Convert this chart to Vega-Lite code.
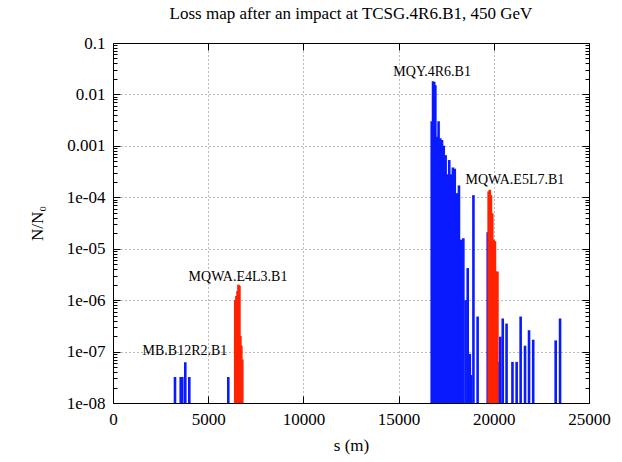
{
  "$schema": "https://vega.github.io/schema/vega-lite/v6.json",
  "width": 476,
  "height": 360,
  "autosize": {"type": "none"},
  "padding": {"left": 113, "top": 43, "right": 33, "bottom": 59},
  "background": "white",
  "title": {"text": "Loss map after an impact at TCSG.4R6.B1, 450 GeV", "font": "Liberation Serif", "fontSize": 17, "fontWeight": "normal", "color": "black", "offset": 11},
  "config": {
    "view": {"stroke": "black", "strokeWidth": 1},
    "axis": {"labelFont": "Liberation Serif", "labelFontSize": 17, "labelColor": "black", "labelFlush": false, "titleFont": "Liberation Serif", "titleFontSize": 17, "titleFontWeight": "normal", "titleColor": "black", "domainColor": "black", "domainWidth": 1, "tickColor": "black", "tickWidth": 1, "gridColor": "#777777", "gridDash": [1, 3], "gridOpacity": 1, "gridWidth": 1}
  },
  "datasets": {
    "losses": [
      {"s": 3256, "v": 3.2e-8, "k": "b"},
      {"s": 3556, "v": 3.2e-8, "k": "b"},
      {"s": 3640, "v": 3.2e-8, "k": "b"},
      {"s": 3797, "v": 6.2e-8, "k": "b"},
      {"s": 4008, "v": 3.2e-8, "k": "b"},
      {"s": 6055, "v": 3.2e-8, "k": "b"},
      {"s": 16740, "v": 3.0e-3, "k": "b"},
      {"s": 16810, "v": 1.8e-2, "k": "b"},
      {"s": 16870, "v": 1.75e-2, "k": "b"},
      {"s": 16930, "v": 1.5e-2, "k": "b"},
      {"s": 17010, "v": 1.5e-3, "k": "b"},
      {"s": 17100, "v": 3.0e-3, "k": "b"},
      {"s": 17190, "v": 1.4e-3, "k": "b"},
      {"s": 17280, "v": 1.3e-3, "k": "b"},
      {"s": 17370, "v": 1.0e-3, "k": "b"},
      {"s": 17470, "v": 6.6e-4, "k": "b"},
      {"s": 17560, "v": 2.8e-4, "k": "b"},
      {"s": 17660, "v": 5.3e-4, "k": "b"},
      {"s": 17750, "v": 2.8e-4, "k": "b"},
      {"s": 17850, "v": 3.8e-4, "k": "b"},
      {"s": 17950, "v": 3.6e-4, "k": "b"},
      {"s": 18060, "v": 1.2e-4, "k": "b"},
      {"s": 18170, "v": 1.7e-4, "k": "b"},
      {"s": 18290, "v": 1.5e-5, "k": "b"},
      {"s": 18400, "v": 1.6e-5, "k": "b"},
      {"s": 18520, "v": 1.0e-6, "k": "b"},
      {"s": 18630, "v": 4.2e-6, "k": "b"},
      {"s": 18740, "v": 9e-8, "k": "b"},
      {"s": 18810, "v": 3.5e-8, "k": "b"},
      {"s": 18930, "v": 1.1e-4, "k": "b"},
      {"s": 19150, "v": 4.8e-7, "k": "b"},
      {"s": 19680, "v": 2.1e-5, "k": "b"},
      {"s": 20240, "v": 6.3e-8, "k": "b"},
      {"s": 20340, "v": 1.95e-7, "k": "b"},
      {"s": 20470, "v": 4.4e-7, "k": "b"},
      {"s": 20670, "v": 3.5e-7, "k": "b"},
      {"s": 20980, "v": 6.3e-8, "k": "b"},
      {"s": 21200, "v": 6.3e-8, "k": "b"},
      {"s": 21410, "v": 4.8e-7, "k": "b"},
      {"s": 21640, "v": 1.3e-7, "k": "b"},
      {"s": 21850, "v": 2.6e-7, "k": "b"},
      {"s": 22070, "v": 1.7e-7, "k": "b"},
      {"s": 23250, "v": 1.65e-7, "k": "b"},
      {"s": 23480, "v": 4.4e-7, "k": "b"},
      {"s": 6420, "v": 1.0e-6, "k": "r"},
      {"s": 6480, "v": 1.2e-6, "k": "r"},
      {"s": 6540, "v": 1.5e-6, "k": "r"},
      {"s": 6590, "v": 2.0e-6, "k": "r"},
      {"s": 6640, "v": 1.9e-6, "k": "r"},
      {"s": 6690, "v": 2.0e-7, "k": "r"},
      {"s": 6740, "v": 1.3e-7, "k": "r"},
      {"s": 6790, "v": 7e-8, "k": "r"},
      {"s": 19730, "v": 1.3e-4, "k": "r"},
      {"s": 19790, "v": 1.4e-4, "k": "r"},
      {"s": 19850, "v": 1.1e-4, "k": "r"},
      {"s": 19920, "v": 4.9e-5, "k": "r"},
      {"s": 19990, "v": 1.5e-5, "k": "r"},
      {"s": 20060, "v": 1.4e-5, "k": "r"},
      {"s": 20130, "v": 3.6e-6, "k": "r"},
      {"s": 20190, "v": 3.6e-6, "k": "r"}
    ],
    "labels": [
      {"s": 3780, "v": 1.03e-7, "t": "MB.B12R2.B1"},
      {"s": 6565, "v": 2.8e-6, "t": "MQWA.E4L3.B1"},
      {"s": 16760, "v": 0.0273, "t": "MQY.4R6.B1"},
      {"s": 21110, "v": 2.17e-4, "t": "MQWA.E5L7.B1"}
    ]
  },
  "layer": [
    {
      "data": {"name": "losses"},
      "mark": {"type": "rule", "strokeWidth": 2.6},
      "encoding": {
        "x": {"field": "s", "type": "quantitative", "scale": {"domain": [0, 25000], "nice": false, "zero": false},
          "axis": {"orient": "bottom", "title": "s (m)", "values": [0, 5000, 10000, 15000, 20000, 25000], "format": "d", "grid": true, "ticks": false, "domain": true, "labelPadding": 8, "titlePadding": 10}},
        "y": {"field": "v", "type": "quantitative", "scale": {"type": "log", "domain": [1e-8, 0.1], "nice": false},
          "axis": {"orient": "left", "title": "N/N₀", "values": [1e-8, 1e-7, 1e-6, 1e-5, 1e-4, 0.001, 0.01, 0.1], "grid": true, "ticks": false, "domain": true, "labelPadding": 8, "titlePadding": 20,
            "labelExpr": "datum.value > 0.05 ? '0.1' : datum.value > 0.005 ? '0.01' : datum.value > 0.0005 ? '0.001' : datum.value > 5e-5 ? '1e-04' : datum.value > 5e-6 ? '1e-05' : datum.value > 5e-7 ? '1e-06' : datum.value > 5e-8 ? '1e-07' : '1e-08'"}},
        "y2": {"datum": 1e-8},
        "color": {"field": "k", "type": "nominal", "scale": {"domain": ["b", "r"], "range": ["#0a1aff", "#ff2200"]}, "legend": null}
      }
    },
    {
      "data": {"name": "labels"},
      "mark": {"type": "text", "font": "Liberation Serif", "fontSize": 14, "color": "black", "align": "center", "baseline": "middle"},
      "encoding": {
        "x": {"field": "s", "type": "quantitative", "axis": null},
        "y": {"field": "v", "type": "quantitative", "scale": {"type": "log"}, "axis": null},
        "text": {"field": "t"}
      }
    },
    {
      "data": {"name": "losses"},
      "mark": {"type": "rule", "opacity": 0},
      "encoding": {
        "x": {"field": "s", "type": "quantitative", "axis": {"orient": "top", "values": [0, 25000], "labels": false, "grid": false, "ticks": false, "domain": true, "title": null}},
        "y": {"field": "v", "type": "quantitative", "scale": {"type": "log"}, "axis": {"orient": "right", "values": [1e-8, 0.1], "labels": false, "grid": false, "ticks": false, "domain": true, "title": null}}
      }
    },
    {
      "data": {"name": "losses"},
      "mark": {"type": "rule", "opacity": 0},
      "encoding": {
        "x": {"field": "s", "type": "quantitative", "axis": {"orient": "bottom", "offset": -7, "values": [5000, 10000, 15000, 20000], "labels": false, "grid": false, "ticks": true, "tickSize": 7, "domain": false, "title": null}},
        "y": {"field": "v", "type": "quantitative", "scale": {"type": "log"}, "axis": {"orient": "left", "offset": -7, "values": [1e-7, 1e-6, 1e-5, 1e-4, 0.001, 0.01], "labels": false, "grid": false, "ticks": true, "tickSize": 7, "domain": false, "title": null}}
      }
    },
    {
      "data": {"name": "losses"},
      "mark": {"type": "rule", "opacity": 0},
      "encoding": {
        "x": {"field": "s", "type": "quantitative", "axis": {"orient": "top", "offset": -7, "values": [5000, 10000, 15000, 20000], "labels": false, "grid": false, "ticks": true, "tickSize": 7, "domain": false, "title": null}},
        "y": {"field": "v", "type": "quantitative", "scale": {"type": "log"}, "axis": {"orient": "right", "offset": -7, "values": [1e-7, 1e-6, 1e-5, 1e-4, 0.001, 0.01], "labels": false, "grid": false, "ticks": true, "tickSize": 7, "domain": false, "title": null}}
      }
    },
    {
      "data": {"name": "losses"},
      "mark": {"type": "rule", "opacity": 0},
      "encoding": {
        "x": {"field": "s", "type": "quantitative", "axis": null},
        "y": {"field": "v", "type": "quantitative", "scale": {"type": "log"}, "axis": {"orient": "left", "offset": -4, "values": [2e-8, 3e-8, 4e-8, 5e-8, 6e-8, 7e-8, 8e-8, 9e-8, 2e-7, 3e-7, 4e-7, 5e-7, 6e-7, 7e-7, 8e-7, 9e-7, 2e-6, 3e-6, 4e-6, 5e-6, 6e-6, 7e-6, 8e-6, 9e-6, 2e-5, 3e-5, 4e-5, 5e-5, 6e-5, 7e-5, 8e-5, 9e-5, 2e-4, 3e-4, 4e-4, 5e-4, 6e-4, 7e-4, 8e-4, 9e-4, 0.002, 0.003, 0.004, 0.005, 0.006, 0.007, 0.008, 0.009, 0.02, 0.03, 0.04, 0.05, 0.06, 0.07, 0.08, 0.09], "labels": false, "grid": false, "ticks": true, "tickSize": 4, "domain": false, "title": null}}
      }
    },
    {
      "data": {"name": "losses"},
      "mark": {"type": "rule", "opacity": 0},
      "encoding": {
        "x": {"field": "s", "type": "quantitative", "axis": null},
        "y": {"field": "v", "type": "quantitative", "scale": {"type": "log"}, "axis": {"orient": "right", "offset": -4, "values": [2e-8, 3e-8, 4e-8, 5e-8, 6e-8, 7e-8, 8e-8, 9e-8, 2e-7, 3e-7, 4e-7, 5e-7, 6e-7, 7e-7, 8e-7, 9e-7, 2e-6, 3e-6, 4e-6, 5e-6, 6e-6, 7e-6, 8e-6, 9e-6, 2e-5, 3e-5, 4e-5, 5e-5, 6e-5, 7e-5, 8e-5, 9e-5, 2e-4, 3e-4, 4e-4, 5e-4, 6e-4, 7e-4, 8e-4, 9e-4, 0.002, 0.003, 0.004, 0.005, 0.006, 0.007, 0.008, 0.009, 0.02, 0.03, 0.04, 0.05, 0.06, 0.07, 0.08, 0.09], "labels": false, "grid": false, "ticks": true, "tickSize": 4, "domain": false, "title": null}}
      }
    }
  ],
  "resolve": {"axis": {"x": "independent", "y": "independent"}}
}
